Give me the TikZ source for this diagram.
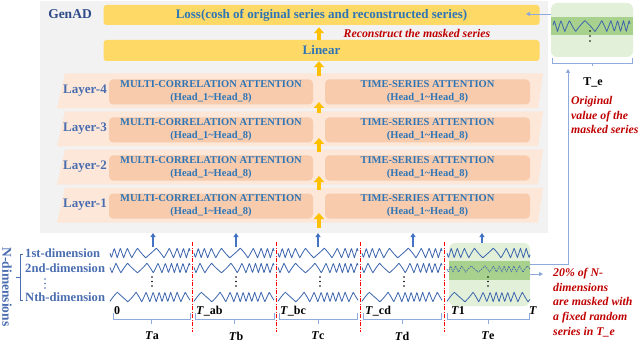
\documentclass[tikz,border=0pt]{standalone}
\usepackage{fontspec}
\setmainfont{Liberation Serif}
\usetikzlibrary{arrows.meta,calc}
\definecolor{bgray}{HTML}{F2F2F2}
\definecolor{gold}{HTML}{FFD966}
\definecolor{orarrow}{HTML}{FFC000}
\definecolor{peachL}{HTML}{FCE7D9}
\definecolor{peach}{HTML}{F8CBAD}
\definecolor{txtblue}{HTML}{2E75B6}
\definecolor{lblblue}{HTML}{4A6DB0}
\definecolor{navy}{HTML}{2F4B8A}
\definecolor{wave}{HTML}{3B64AD}
\definecolor{gLight}{HTML}{E2F0D9}
\definecolor{gDark}{HTML}{A9D18E}
\definecolor{lineblue}{HTML}{8FAADC}
\definecolor{arrblue}{HTML}{4472C4}
\definecolor{redtxt}{HTML}{C00000}
\tikzset{
  topbox/.style={fill=gold, rounded corners=3pt, minimum width=436pt, minimum height=20pt, inner sep=0pt,
    text=txtblue, font=\fontsize{13}{14}\selectfont\bfseries},
  attbox/.style={fill=peach, rounded corners=4pt, minimum height=25pt, inner sep=0pt, align=center,
    text=txtblue, font=\fontsize{10.5}{13}\selectfont\bfseries},
  layerlbl/.style={text=lblblue, font=\fontsize{13}{14}\selectfont\bfseries},
  dimlbl/.style={text=lblblue, font=\fontsize{12.6}{14}\selectfont\bfseries, anchor=west, inner sep=0pt},
  oarr/.style={draw=orarrow, line width=4pt, -{Triangle[width=10pt,length=6pt]}},
  barr/.style={draw=arrblue, line width=1.5pt, -{Triangle[width=5pt,length=4pt]}},
  thinarr/.style={draw=lineblue, line width=0.9pt, -{Triangle[width=4pt,length=4pt,fill=arrblue]}},
  wavel/.style={draw=wave, line width=0.8pt, line join=round},
  redsep/.style={draw=red, line width=0.8pt, dash pattern=on 4pt off 1.5pt on 1pt off 1.5pt},
  brk/.style={draw=lineblue, line width=0.8pt},
  tlbl/.style={font=\fontsize{12}{14}\selectfont\bfseries, inner sep=0pt},
  redtext/.style={text=redtxt, font=\fontsize{11.8}{14.7}\selectfont\bfseries\itshape, align=left, inner sep=0pt},
}
\begin{document}
\begin{tikzpicture}[x=1pt,y=-1pt]
\useasboundingbox (0,0) rectangle (640,342);
% gray panel
\fill[bgray] (40,1) rectangle (548,233);
\node[text=navy, font=\fontsize{13.5}{15}\selectfont\bfseries] (genad) at (70,14) {GenAD};
\node[topbox] (loss) at (321.5,15) {Loss(cosh of original series and reconstructed series)};
\node[topbox, minimum height=21pt] (linear) at (321.5,50.5) {Linear};
\node[redtext] (recon) at (417,33) {Reconstruct the masked series};
% layers
\foreach \c/\n in {91/4,129/3,167/2,205/1}{
  \fill[peachL] (65,\c-17.5) -- (543,\c-17.5) -- (538,\c+17.5) -- (57,\c+17.5) -- cycle;
  \node[layerlbl] (lay\n) at (85,\c) {Layer-\n};
  \node[attbox, minimum width=204pt] (mca\n) at (211,\c+1) {MULTI-CORRELATION ATTENTION\\(Head\_1\textasciitilde Head\_8)};
  \node[attbox, minimum width=205pt] (tsa\n) at (427.5,\c+1) {TIME-SERIES ATTENTION\\(Head\_1\textasciitilde Head\_8)};
}
% orange arrows
\coordinate (g0) at (319,228); \coordinate (g1) at (319,213);
\coordinate (g2) at (319,190); \coordinate (g3) at (319,176);
\coordinate (g4) at (319,152); \coordinate (g5) at (319,138);
\coordinate (g6) at (319,113); \coordinate (g7) at (319,102);
\draw[oarr] (g0) -- (g1);
\draw[oarr] (g2) -- (g3);
\draw[oarr] (g4) -- (g5);
\draw[oarr] (g6) -- (g7);
\draw[oarr] (mca4.north -| g0) ++(0,-3) -- (linear.south -| g0);
\draw[oarr] (linear.north -| g0) -- ($(loss.south -| g0)+(0,2)$);
% blue up arrows
\foreach \x in {153,236,318,413,482}{
  \draw[barr] (\x,247) -- (\x,233);
}
% green masked region
\node[fill=gLight, rounded corners=6pt, minimum width=81pt, minimum height=63pt, inner sep=0pt] (mask) at (489.5,274.5) {};
\fill[gDark] (449,261) rectangle (530,280);
% waves (zigzag with varying frequency)
\foreach \s/\len in {110/80,194/80,278/80,362/80,447/83}{
  \draw[wavel] plot[domain=0:\len, samples=200] ({\s+\x}, {253+4.8*asin(sin(40*\x+300*sin(4.5*\x)))/90});
  \draw[wavel] plot[domain=0:\len, samples=200] ({\s+\x}, {297+4.8*asin(sin(40*\x+300*sin(4.5*\x+120)+200))/90});
}
\foreach \s/\len in {110/80,194/80,278/80,362/80}{
  \draw[wavel] plot[domain=0:\len, samples=200] ({\s+\x}, {268+4.8*asin(sin(40*\x+300*sin(4.5*\x+60)+90))/90});
}
\draw[wavel, line width=0.7pt, dash pattern=on 1.5pt off 1pt] plot[domain=0:83, samples=240] ({447+\x}, {269+3.2*asin(sin(50*\x+250*sin(6*\x)))/90});
% dots
\foreach \x in {152,236,320,404,488}{
  \foreach \y in {277,281.5,286} \fill (\x,\y) circle (0.9pt);
}
% red separators
\foreach \x in {192,276,360,444} \draw[redsep] (\x,242) -- (\x,332);
% braces below
\foreach \a/\b in {113/190,195/274,279/357,363/441,447/529}{
  \draw[brk] (\a,313) -- (\a,319) -- (\b,319) -- (\b,313);
  \draw[brk] ({(\a+\b)/2},319) -- ++(0,5);
}
\node[tlbl, anchor=west] (t0) at (114,311) {0};
\node[tlbl, anchor=west] (tab) at (196,311) {\textit{T}\_ab};
\node[tlbl, anchor=west] (tbc) at (280,311) {\textit{T}\_bc};
\node[tlbl, anchor=west] (tcd) at (365,311) {\textit{T}\_cd};
\node[tlbl, anchor=west] (t1) at (451,311) {\textit{T}1};
\node[tlbl, anchor=west] (tT) at (529,311) {\textit{T}};
\node[tlbl] (ta) at (152,336) {\textit{T}a};
\node[tlbl] (tb) at (236,336) {\textit{T}b};
\node[tlbl] (tc) at (318,336) {\textit{T}c};
\node[tlbl] (td) at (402,336) {\textit{T}d};
\node[tlbl] (te) at (488,336) {\textit{T}e};
% dimension labels
\node[dimlbl] (d1) at (25,253) {1st-dimension};
\node[dimlbl] (d2) at (25,268) {2nd-dimension};
\node[dimlbl] (dn) at (25,297) {Nth-dimension};
\foreach \y in {279,283.5,288} \fill[lblblue] (45,\y) circle (0.8pt);
\draw[lblblue, line width=0.7pt] (23,254) -- (20,254) -- (20,300) -- (23,300);
\draw[lblblue, line width=0.7pt] (20,277) -- (16,277);
\node[rotate=-90, text=lblblue, font=\fontsize{13.5}{15}\selectfont\bfseries] (ndim) at (7,287) {N-dimensions};
% inset
\node[fill=gLight, rounded corners=6pt, minimum width=82pt, minimum height=54pt, inner sep=0pt] (inset) at (592,30) {};
\fill[gDark] (551,17) rectangle (633,35);
\draw[wavel] plot[domain=0:77, samples=190] ({553+\x}, {26+5.5*asin(sin(40*\x+300*sin(4.5*\x+30)+40))/90});
\foreach \y in {31,36,41} \fill (590,\y) circle (0.9pt);
\draw[brk] (552,58) -- (552,63) -- (632,63) -- (632,58);
\draw[brk] (592,63) -- (592,66);
\coordinate (bracetip) at (568,69);
\node[tlbl] (tE) at (593,82) {T\_e};
\node[redtext, anchor=north west] (orig) at (571,96) {Original\\value of the\\masked series};
% connectors on the right
\coordinate (maskout) at (530,264);
\coordinate (corner) at (568,264);
\draw[thinarr] (maskout) -- (corner) -- (bracetip);
\draw[thinarr] (530,274) -- (543,274);
\draw[thinarr] (inset.west |- 0,14) -- (526,14);
\node[redtext, anchor=north west] (pct) at (553,268) {20\% of N-\\dimensions\\are masked with\\a fixed random\\series in T\_e};
\end{tikzpicture}
\end{document}
